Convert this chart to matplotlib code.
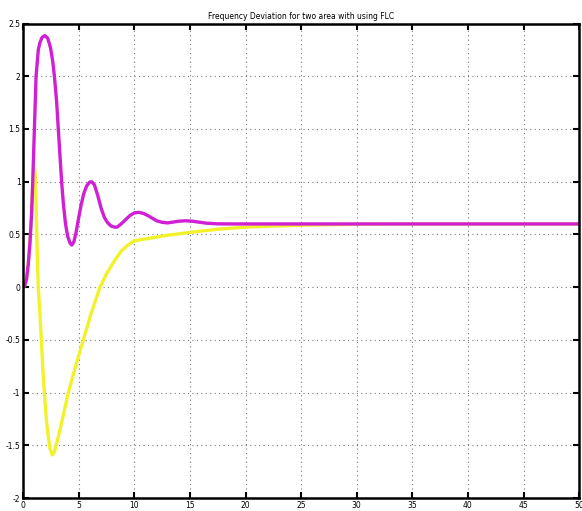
import numpy as np
from matplotlib import pyplot as plt

# magenta trace (time, deviation)
t_mag = [0, 0.15, 0.3, 0.45, 0.6, 0.75, 0.85, 1.0, 1.15, 1.35, 1.5, 1.7, 1.95, 2.2, 2.45,
         2.65, 2.8, 3.0, 3.15, 3.3, 3.45, 3.6, 3.8, 4.0, 4.2, 4.36, 4.55, 4.75, 4.95, 5.2,
         5.45, 5.7, 5.95, 6.16, 6.4, 6.7, 7.0, 7.3, 7.6, 7.9, 8.2, 8.45, 8.8, 9.2, 9.6, 10.0,
         10.4, 10.8, 11.2, 11.6, 12.0, 12.5, 13.0, 13.5, 14.0, 14.6, 15.2, 15.8, 16.5, 17.5,
         19, 25, 35, 50]
y_mag = [0, 0.02, 0.08, 0.22, 0.42, 0.7, 1.0, 1.5, 2.0, 2.25, 2.32, 2.37, 2.385, 2.36, 2.27,
         2.14, 2.0, 1.76, 1.5, 1.25, 1.0, 0.8, 0.6, 0.48, 0.42, 0.40, 0.43, 0.52, 0.64, 0.78,
         0.89, 0.96, 0.995, 1.0, 0.97, 0.87, 0.75, 0.66, 0.61, 0.58, 0.57, 0.57, 0.6, 0.64,
         0.68, 0.705, 0.71, 0.70, 0.68, 0.655, 0.63, 0.615, 0.61, 0.618, 0.626, 0.63, 0.626,
         0.617, 0.607, 0.601, 0.6, 0.6, 0.6, 0.6]

# yellow trace
t_yel = [0, 0.15, 0.3, 0.45, 0.6, 0.75, 0.85, 0.95, 1.02, 1.08, 1.15, 1.25, 1.35, 1.5, 1.65,
         1.8, 1.95, 2.1, 2.25, 2.4, 2.61, 2.8, 3.0, 3.15, 3.5, 4.05, 4.7, 5.4, 6.1, 6.9, 7.5,
         8.2, 8.8, 9.4, 10.0, 10.8, 11.4, 12.8, 15.0, 17.5, 20, 22.5, 25, 30, 35, 50]
y_yel = [0, 0.02, 0.08, 0.22, 0.42, 0.7, 0.95, 1.08, 1.12, 1.05, 0.8, 0.35, 0.0, -0.25, -0.55,
         -0.85, -1.08, -1.28, -1.42, -1.53, -1.59, -1.56, -1.48, -1.42, -1.26, -1.0, -0.75,
         -0.5, -0.25, 0.0, 0.13, 0.25, 0.34, 0.40, 0.44, 0.455, 0.465, 0.49, 0.52, 0.55,
         0.57, 0.58, 0.588, 0.597, 0.6, 0.6]

fig = plt.figure(figsize=(5.82, 5.11), dpi=100)
ax = fig.add_axes([0.040, 0.025, 0.955, 0.929])

ax.plot(t_yel, y_yel, color='#f2f22a', lw=2.4, solid_joinstyle='round')
ax.plot(t_mag, y_mag, color='#d01fd4', lw=2.4, solid_joinstyle='round')

ax.set_xlim(0, 50)
ax.set_ylim(-2, 2.5)
ax.set_xticks(np.arange(0, 51, 5))
ax.set_yticks(np.arange(-2, 2.51, 0.5))
ax.set_xticklabels([str(v) for v in range(0, 51, 5)])
ax.set_yticklabels(['-2', '-1.5', '-1', '-0.5', '0', '0.5', '1', '1.5', '2', '2.5'])
ax.grid(True, linestyle=(0, (1, 3)), color='#777777', lw=0.8)
ax.tick_params(direction='in', top=True, right=True, length=4, width=1.5,
               labelsize=5.5, pad=2)
for s in ax.spines.values():
    s.set_linewidth(1.8)

ax.set_title('Frequency Deviation for two area with using FLC', fontsize=5.5, pad=3)

fig.savefig('out.png', dpi=100)
